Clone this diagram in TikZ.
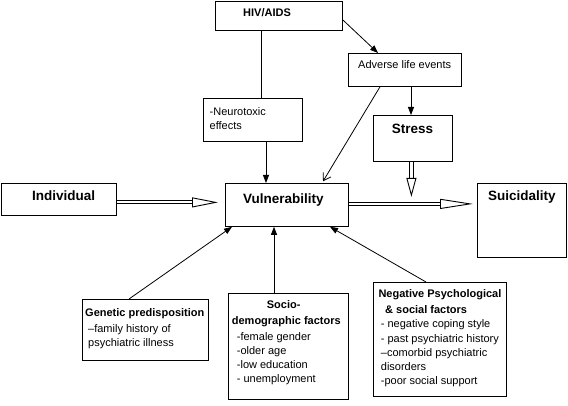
\documentclass[tikz,border=0pt]{standalone}
\usepackage{fontspec}
\setmainfont{Liberation Sans}
\usetikzlibrary{arrows.meta}

\tikzset{
  box/.style={draw, line width=0.8pt, inner sep=0pt, anchor=north west},
  head/.style={font=\bfseries\fontsize{13.5}{16}\selectfont, inner sep=0pt, anchor=base west},
  sub/.style={font=\bfseries\fontsize{11}{14}\selectfont, inner sep=0pt, anchor=base west},
  small/.style={font=\fontsize{11}{14.2}\selectfont, inner sep=0pt, anchor=base west},
  list/.style={small, align=left, anchor=north west},
  link/.style={line width=0.8pt, -{Triangle[length=8pt,width=6pt]}},
  barb/.style={line width=0.8pt, -{Straight Barb[length=7pt,width=9pt]}},
  shaft/.style={line width=1pt, double, double distance=2.2pt},
  hollow/.style={line width=0.9pt, -{Triangle[open,length=#1,width=10pt]}}
}

\begin{document}
\begin{tikzpicture}[x=1pt,y=-1pt]
  \useasboundingbox (0,0) rectangle (568,406);

  \node[box, minimum width=127pt, minimum height=29pt] (hiv) at (215,1) {};
  \node[box, minimum width=113pt, minimum height=33pt] (adv) at (348,53) {};
  \node[box, minimum width=99pt, minimum height=43pt] (neuro) at (203,98) {};
  \node[box, minimum width=79pt, minimum height=46pt] (stress) at (373,115) {};
  \node[box, minimum width=115pt, minimum height=32pt] (indiv) at (1,183) {};
  \node[box, minimum width=123pt, minimum height=43pt] (vuln) at (225,183) {};
  \node[box, minimum width=89pt, minimum height=74pt] (suic) at (477,183) {};
  \node[box, minimum width=126pt, minimum height=61pt] (gen) at (82,299) {};
  \node[box, minimum width=120pt, minimum height=106pt] (socio) at (228,293) {};
  \node[box, minimum width=133pt, minimum height=114pt] (neg) at (373,282) {};

  \node[sub] (hiv-t) at (243,16.7) {HIV/AIDS};
  \node[small] (adv-t) at (358,68.5) {Adverse life events};
  \node[list] (neuro-t) at (209.5,107) {-Neurotoxic\\effects};
  \node[head] (stress-t) at (391.7,133.3) {Stress};
  \node[head] (indiv-t) at (32,200.7) {Individual};
  \node[head] (vuln-t) at (243,204) {Vulnerability};
  \node[head] (suic-t) at (488,200.7) {Suicidality};
  \node[list] (gen-t) at (85,308.5) {\textbf{Genetic predisposition}\\[1.7pt]
    \hspace{3pt}--family history of\\
    \hspace{3pt}psychiatric illness};
  \node[list] (socio-t) at (231.7,300) {\hspace{35pt}\textbf{Socio-}\\[1.8pt]
    \textbf{demographic factors}\\[1.8pt]
    \hspace{5pt}-female gender\\
    \hspace{5pt}-older age\\
    \hspace{5pt}-low education\\
    \hspace{5pt}- unemployment};
  \node[list] (neg-t) at (378.3,289) {\textbf{Negative Psychological}\\[2.4pt]
    \hspace{6.7pt}\textbf{\& social factors}\\
    \hspace{2.4pt}- negative coping style\\
    \hspace{2.4pt}- past psychiatric history\\
    \hspace{2.4pt}--comorbid psychiatric\\
    \hspace{2.4pt}disorders\\
    \hspace{2.4pt}-poor social support};

  \draw[line width=0.8pt] ([xshift=46pt]hiv.south west) -- ([xshift=46pt]hiv.south west |- neuro.north);
  \draw[link] ([yshift=-4pt]hiv.east) -- ([xshift=30pt]adv.north west);
  \draw[link] ([xshift=63pt]adv.south west) -- ([xshift=63pt]adv.south west |- stress.north);
  \draw[link] ([xshift=63pt]neuro.south west) -- ([xshift=63pt]neuro.south west |- vuln.north);
  \draw[barb, shorten >=2pt] ([xshift=32pt]adv.south west) -- ([xshift=97pt]vuln.north west);

  \coordinate (indiv-tip) at ([xshift=-7pt,yshift=-3pt]indiv.east -| vuln.west);
  \coordinate (suic-tip) at ([xshift=-4pt,yshift=1pt]vuln.east -| suic.west);
  \coordinate (stress-tip) at ([xshift=-1.5pt,yshift=8pt]stress.south |- vuln.east);
  \draw[shaft] ([yshift=-3pt]indiv.east) -- ([xshift=-26pt]indiv-tip);
  \draw[hollow=26pt] ([xshift=-26pt]indiv-tip) -- (indiv-tip);
  \draw[shaft] (vuln.east |- suic-tip) -- ([xshift=-33pt]suic-tip);
  \draw[hollow=33pt] ([xshift=-33pt]suic-tip) -- (suic-tip);
  \draw[shaft] (stress.south -| stress-tip) -- ([yshift=19pt]stress-tip);
  \draw[hollow=19pt] ([yshift=19pt]stress-tip) -- (stress-tip);

  \draw[link] ([xshift=47pt]gen.north west) -- ([xshift=7pt]vuln.south west);
  \draw[link] ([xshift=46pt]socio.north west) -- ([xshift=46pt]socio.north west |- vuln.south);
  \draw[link] ([xshift=53pt]neg.north west) -- ([xshift=105pt]vuln.south west);
\end{tikzpicture}
\end{document}
